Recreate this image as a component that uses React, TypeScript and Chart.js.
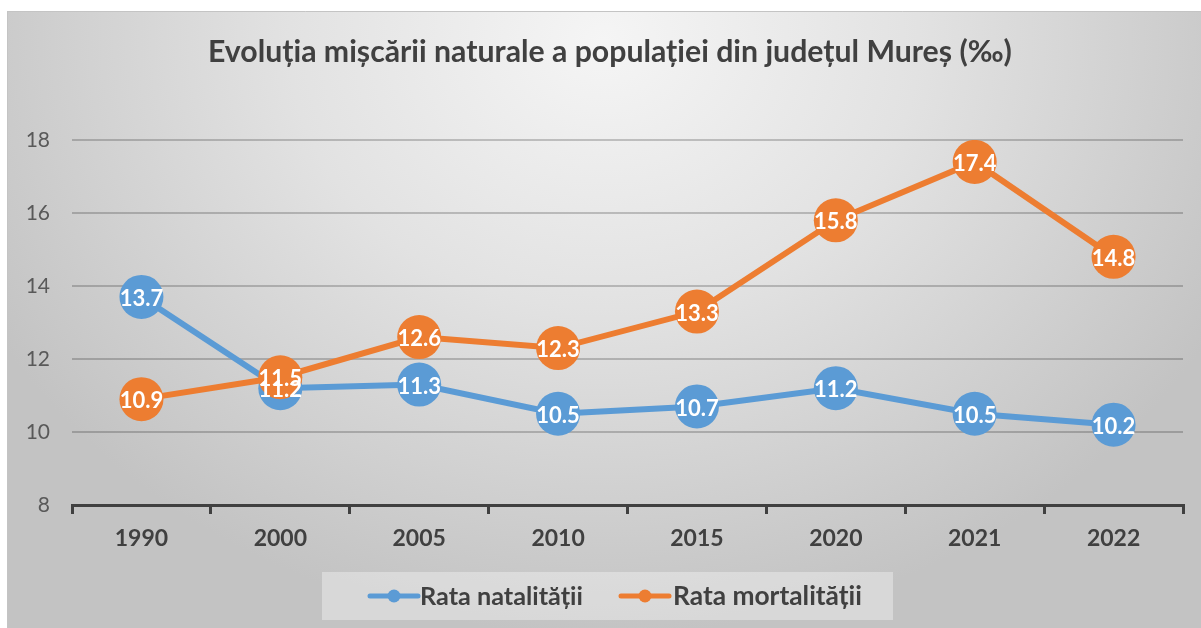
import React, { useEffect, useRef } from "react";
import { Chart, registerables } from "chart.js";

Chart.register(...registerables);

const years = ["1990", "2000", "2005", "2010", "2015", "2020", "2021", "2022"];
const natalitate = [13.7, 11.2, 11.3, 10.5, 10.7, 11.2, 10.5, 10.2];
const mortalitate = [10.9, 11.5, 12.6, 12.3, 13.3, 15.8, 17.4, 14.8];
const seriesNames = ["Rata natalității", "Rata mortalității"];
const titleText = "Evoluția mișcării naturale a populației din județul Mureș (‰)";
const yMin = 8;
const yMax = 18;
const yStep = 2;

const BLUE = "#5B9BD5";
const ORANGE = "#ED7D31";
const TEXT = "#404040";
const FAMILY = "Lato, 'Open Sans', sans-serif";

function fitFont(ctx: CanvasRenderingContext2D, text: string, width: number, weight: string) {
  ctx.font = `${weight} 20px ${FAMILY}`;
  const w = ctx.measureText(text).width;
  return (20 * width) / w;
}

const decorPlugin = {
  id: "decor",
  beforeDraw(chart: any) {
    const ctx: CanvasRenderingContext2D = chart.ctx;
    const W = chart.width;
    const H = chart.height;
    ctx.save();
    ctx.fillStyle = "#ffffff";
    ctx.fillRect(0, 0, W, H);
    ctx.save();
    ctx.beginPath();
    ctx.rect(7, 11, W - 7, H - 11);
    ctx.clip();
    ctx.translate(604, 40);
    ctx.scale(1, 0.85);
    const g = ctx.createRadialGradient(0, 0, 0, 0, 0, 700);
    g.addColorStop(0, "#f5f5f5");
    g.addColorStop(0.45, "#e2e2e2");
    g.addColorStop(1, "#c3c3c3");
    ctx.fillStyle = g;
    ctx.fillRect(-700, -100, 1400, 900);
    ctx.restore();
    ctx.strokeStyle = "#c4c4c4";
    ctx.lineWidth = 1;
    ctx.beginPath();
    ctx.moveTo(7, 11.5);
    ctx.lineTo(W, 11.5);
    ctx.moveTo(7.5, 11);
    ctx.lineTo(7.5, H);
    ctx.stroke();

    const ts = fitFont(ctx, titleText, 804, "bold");
    ctx.font = `bold ${ts}px ${FAMILY}`;
    ctx.fillStyle = TEXT;
    ctx.textAlign = "left";
    ctx.textBaseline = "alphabetic";
    ctx.fillText(titleText, 208, 62);

    ctx.fillStyle = "rgba(255,255,255,0.35)";
    ctx.fillRect(322, 572, 571, 48);
    const items = [
      { color: BLUE, x: 370, tx: 420, tw: 163, name: seriesNames[0] },
      { color: ORANGE, x: 621, tx: 673, tw: 189, name: seriesNames[1] },
    ];
    items.forEach((it) => {
      ctx.strokeStyle = it.color;
      ctx.lineWidth = 5;
      ctx.lineCap = "round";
      ctx.beginPath();
      ctx.moveTo(it.x, 596);
      ctx.lineTo(it.x + 48, 596);
      ctx.stroke();
      ctx.fillStyle = it.color;
      ctx.beginPath();
      ctx.arc(it.x + 24, 596, 6.5, 0, Math.PI * 2);
      ctx.fill();
      const fs = fitFont(ctx, it.name, it.tw, "bold");
      ctx.font = `bold ${fs}px ${FAMILY}`;
      ctx.fillStyle = TEXT;
      ctx.textBaseline = "middle";
      ctx.fillText(it.name, it.tx, 597);
    });
    ctx.restore();
  },
  afterDatasetsDraw(chart: any) {
    const ctx: CanvasRenderingContext2D = chart.ctx;
    ctx.save();
    ctx.fillStyle = "#ffffff";
    ctx.textAlign = "center";
    ctx.textBaseline = "middle";
    ctx.font = `bold 22px ${FAMILY}`;
    [1, 0].forEach((di) => {
      const meta = chart.getDatasetMeta(di);
      const data = chart.data.datasets[di].data as number[];
      meta.data.forEach((pt: any, i: number) => {
        ctx.fillText(data[i].toFixed(1), pt.x, pt.y + 2);
      });
    });
    ctx.restore();
  },
};

export default function App() {
  const ref = useRef<HTMLCanvasElement | null>(null);
  useEffect(() => {
    if (!ref.current) return;
    const chart = new Chart(ref.current, {
      type: "line",
      data: {
        labels: years,
        datasets: [
          {
            label: seriesNames[0],
            data: natalitate,
            borderColor: BLUE,
            backgroundColor: BLUE,
            pointBackgroundColor: BLUE,
            pointBorderWidth: 0,
            borderWidth: 6,
            pointRadius: 22,
            pointHoverRadius: 22,
            order: 1,
          },
          {
            label: seriesNames[1],
            data: mortalitate,
            borderColor: ORANGE,
            backgroundColor: ORANGE,
            pointBackgroundColor: ORANGE,
            pointBorderWidth: 0,
            borderWidth: 6,
            pointRadius: 22,
            pointHoverRadius: 22,
            order: 0,
          },
        ],
      },
      options: {
        responsive: false,
        devicePixelRatio: 1,
        animation: false,
        events: [],
        layout: { autoPadding: false, padding: { left: 7, right: 18, top: 140, bottom: 0 } },
        plugins: {
          legend: { display: false },
          title: { display: false },
          tooltip: { enabled: false },
        },
        scales: {
          x: {
            offset: true,
            grid: {
              display: true,
              drawOnChartArea: false,
              drawTicks: true,
              tickLength: 9,
              tickWidth: 3,
              color: "#404040",
              lineWidth: 3,
              offset: true,
            },
            border: { display: true, color: "#404040", width: 3 },
            ticks: {
              color: TEXT,
              font: { family: FAMILY, size: 23, weight: "bold" },
              padding: 11,
              maxRotation: 0,
            },
            afterFit: (s: any) => {
              s.height = 123;
            },
          },
          y: {
            min: yMin,
            max: yMax,
            ticks: {
              stepSize: yStep,
              color: "#595959",
              font: { family: FAMILY, size: 21 },
              padding: 22,
            },
            grid: { color: "rgba(0,0,0,0.2)", lineWidth: 2, drawTicks: false },
            border: { display: false },
            afterFit: (s: any) => {
              s.width = 65;
            },
          },
        },
      },
      plugins: [decorPlugin],
    } as any);
    return () => chart.destroy();
  }, []);
  return (
    <div style={{ position: "fixed", left: 0, top: 0, width: 1201, height: 628 }}>
      <canvas ref={ref} width={1201} height={628} style={{ display: "block" }} />
    </div>
  );
}
